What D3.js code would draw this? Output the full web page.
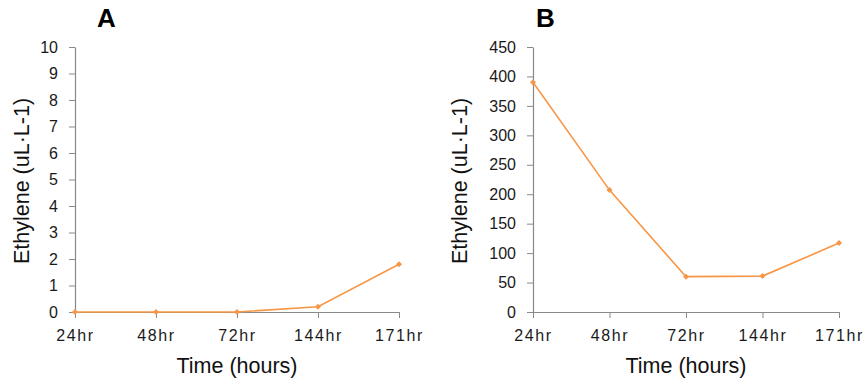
<!DOCTYPE html>
<html><head><meta charset="utf-8">
<script src="https://cdn.jsdelivr.net/npm/d3@7"></script>
<style>
body{margin:0;background:#fff;}
svg{display:block;}
</style></head>
<body>
<script>
const categories = ["24hr","48hr","72hr","144hr","171hr"];
const valuesA = [0, 0, 0, 0.2, 1.8];
const valuesB = [390, 207, 60, 61, 117];
const ticksA = [0,1,2,3,4,5,6,7,8,9,10];
const ticksB = [0,50,100,150,200,250,300,350,400,450];
const panelTitles = ["A","B"];
const yTitle = "Ethylene (uL\u00B7L-1)";
const xTitle = "Time (hours)";

const W = 866, H = 382;
const FONT = "Liberation Sans, Arial, sans-serif";
const svg = d3.select("body").append("svg").attr("width", W).attr("height", H);

const axisColor = "#898989";
const lineColor = "#F79646";

const panels = [
  {title: panelTitles[0], values: valuesA, ticks: ticksA, max: 10, x0: 75, x1: 399, yTitleX: 29, titleX: 97},
  {title: panelTitles[1], values: valuesB, ticks: ticksB, max: 450, x0: 533, x1: 839, yTitleX: 467, titleX: 536}
];

panels.forEach(p => {
  const g = svg.append("g");
  const x = d3.scalePoint().domain(categories).range([p.x0, p.x1]).padding(0);
  const y = d3.scaleLinear().domain([0, p.max]).range([312, 47]);

  const ya = g.append("g").attr("transform", `translate(${p.x0},0)`)
    .call(d3.axisLeft(y).tickValues(p.ticks).tickSize(6).tickSizeOuter(0).tickPadding(11));
  ya.attr("font-size", null).attr("font-family", null);
  ya.select(".domain").attr("stroke", axisColor).attr("stroke-width", 1.2);
  ya.selectAll(".tick line").attr("stroke", axisColor);
  ya.selectAll(".tick text").style("font-size", "16px").attr("fill", "#1a1a1a")
    .style("font-family", FONT);

  const xa = g.append("g").attr("transform", `translate(0,312)`)
    .call(d3.axisBottom(x).tickSize(6).tickSizeOuter(0).tickPadding(12));
  xa.attr("font-size", null).attr("font-family", null);
  xa.select(".domain").attr("stroke", axisColor).attr("stroke-width", 1.2);
  xa.selectAll(".tick line").attr("stroke", axisColor);
  xa.selectAll(".tick text").style("font-size", "16px").attr("fill", "#1a1a1a")
    .style("letter-spacing", "1.6px")
    .style("font-family", FONT);

  const data = categories.map((c, i) => ({c, v: p.values[i]}));
  g.append("path").datum(data)
    .attr("fill", "none").attr("stroke", lineColor).attr("stroke-width", 1.6)
    .attr("d", d3.line().x(d => x(d.c)).y(d => y(d.v)));
  g.selectAll(".mk").data(data).enter().append("path")
    .attr("class", "mk")
    .attr("transform", d => `translate(${x(d.c)},${y(d.v)}) rotate(45)`)
    .attr("d", d3.symbol(d3.symbolSquare).size(18))
    .attr("fill", lineColor);

  g.append("text").attr("x", p.titleX).attr("y", 27)
    .style("font-size", "26px").attr("font-weight", "bold").attr("fill", "#000")
    .style("font-family", FONT)
    .text(p.title);
  g.append("text")
    .attr("transform", `translate(${p.yTitleX},181) rotate(-90)`)
    .attr("text-anchor", "middle").style("font-size", "21.5px").attr("fill", "#111")
    .style("font-family", FONT)
    .text(yTitle);
  g.append("text").attr("x", (p.x0 + p.x1) / 2).attr("y", 373)
    .attr("text-anchor", "middle").style("font-size", "21.5px").attr("fill", "#111")
    .style("font-family", FONT)
    .text(xTitle);
});
</script>
</body></html>
